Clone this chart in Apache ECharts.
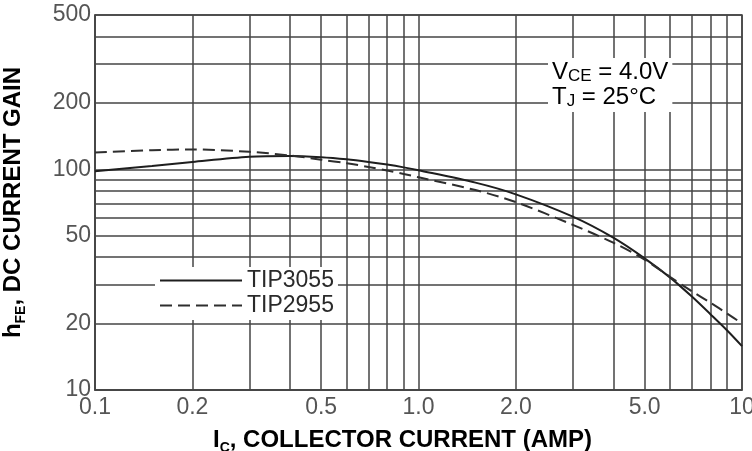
<!DOCTYPE html>
<html>
<head>
<meta charset="utf-8">
<script src="https://cdn.jsdelivr.net/npm/echarts@6/dist/echarts.min.js"></script>
<style>
    html, body { margin: 0; padding: 0; background: #fff; }
    #chart { width: 752px; height: 451px; }
</style>
</head>
<body>
<div id="chart"></div>
<script>
// collector current (A) and DC current gain
var current = [0.1, 0.15, 0.2, 0.3, 0.4, 0.5, 0.6, 0.7, 0.8, 0.9, 1.0, 1.5, 2.0, 3.0, 4.0, 5.0, 6.0, 7.0, 8.0, 9.0, 10];
var gainTip3055 = [98, 103.5, 108, 114, 115, 113.5, 111, 108, 105, 102, 99, 87, 77, 61, 49, 39.5, 32.3, 26.5, 22, 18.6, 15.8];
var gainTip2955 = [119, 122, 123, 120, 115.5, 110.5, 106.5, 102.5, 98.7, 95.2, 92, 80.5, 71, 56, 46.5, 39, 32.5, 28, 24.8, 22.2, 20];

var xTickValues = [0.1, 0.2, 0.5, 1, 2, 5, 10];
var xTickLabels = ['0.1', '0.2', '0.5', '1.0', '2.0', '5.0', '10'];
var yTickValues = [10, 20, 50, 100, 200, 500];
var yTickLabels = ['10', '20', '50', '100', '200', '500'];

var xGridValues = [0.1, 0.2, 0.3, 0.4, 0.5, 0.6, 0.7, 0.8, 0.9, 1, 2, 3, 4, 5, 6, 7, 8, 9, 10];
var yGridValues = [10, 20, 30, 40, 50, 60, 70, 80, 90, 100, 200, 300, 400, 500];

var font = '"Liberation Sans", Arial, sans-serif';
var gridColor = '#444';

function pickLabel(values, labels) {
    return function (v) {
        for (var i = 0; i < values.length; i++) {
            if (Math.abs(values[i] - v) / values[i] < 1e-6) return labels[i];
        }
        return '';
    };
}

function pairs(xs, ys) {
    return xs.map(function (x, i) { return [x, ys[i]]; });
}

var titleRich = {
    b: { fontFamily: font, fontSize: 24, fontWeight: 'bold', color: '#000' },
    sub: { fontFamily: font, fontSize: 14, fontWeight: 'bold', color: '#000', padding: [15, 0, 0, 0] }
};

var chart = echarts.init(document.getElementById('chart'));
var option = {
    animation: false,
    backgroundColor: '#fff',
    grid: {
        left: 95,
        right: 10,
        top: 15,
        bottom: 61,
        outerBoundsMode: 'none',
        containLabel: false,
        show: true,
        borderColor: gridColor,
        borderWidth: 1.5
    },
    legend: {
        orient: 'vertical',
        left: 155,
        top: 267,
        itemWidth: 82,
        itemHeight: 14,
        itemGap: 2,
        padding: [2, 4, 3, 4],
        backgroundColor: '#fff',
        itemStyle: { opacity: 0 },
        textStyle: { fontFamily: font, fontSize: 23, color: '#2a2a2a' },
        data: ['TIP3055', 'TIP2955']
    },
    xAxis: {
        type: 'log',
        min: 0.1,
        max: 10,
        name: '{b|I}{sub|C}{b|, COLLECTOR CURRENT (AMP)}',
        nameLocation: 'middle',
        nameGap: 36,
        nameTextStyle: { padding: [0, 32, 0, 0], rich: titleRich },
        axisLine: { show: true, lineStyle: { color: gridColor, width: 1.5 } },
        axisTick: { show: false, customValues: xGridValues },
        axisLabel: {
            customValues: xTickValues,
            formatter: pickLabel(xTickValues, xTickLabels),
            fontFamily: font,
            fontSize: 23,
            color: '#555',
            margin: 6
        },
        splitLine: { show: true, lineStyle: { color: gridColor, width: 1.5 } }
    },
    yAxis: {
        type: 'log',
        min: 10,
        max: 500,
        name: '{b|h}{sub|FE}{b|, DC CURRENT GAIN}',
        nameLocation: 'middle',
        nameRotate: 90,
        nameGap: 67,
        nameTextStyle: { rich: titleRich },
        axisLine: { show: true, lineStyle: { color: gridColor, width: 1.5 } },
        axisTick: { show: false, customValues: yGridValues },
        axisLabel: {
            customValues: yTickValues,
            formatter: pickLabel(yTickValues, yTickLabels),
            fontFamily: font,
            fontSize: 23,
            color: '#555',
            margin: 4
        },
        splitLine: { show: true, lineStyle: { color: gridColor, width: 1.5 } }
    },
    series: [
        {
            name: 'TIP3055',
            type: 'line',
            smooth: 0.3,
            symbol: 'none',
            lineStyle: { color: '#1e1e1e', width: 2 },
            itemStyle: { color: '#1e1e1e' },
            data: pairs(current, gainTip3055)
        },
        {
            name: 'TIP2955',
            type: 'line',
            smooth: 0.3,
            symbol: 'none',
            lineStyle: { color: '#2e2e2e', width: 2, type: [12, 6] },
            itemStyle: { color: '#2e2e2e' },
            data: pairs(current, gainTip2955)
        }
    ],
    graphic: [
        {
            type: 'text',
            left: 548,
            top: 58,
            z: 100,
            style: {
                text: '{n|V}{sub|CE}{n| = 4.0V}\n{n|T}{sub|J}{n| = 25°C}',
                backgroundColor: '#fff',
                padding: [2, 4, 2, 4],
                rich: {
                    n: { fontFamily: font, fontSize: 24, color: '#2a2a2a', lineHeight: 25 },
                    sub: { fontFamily: font, fontSize: 17, color: '#2a2a2a', padding: [7, 0, 0, 0], lineHeight: 25 }
                }
            }
        }
    ]
};
chart.setOption(option);
</script>
</body>
</html>
